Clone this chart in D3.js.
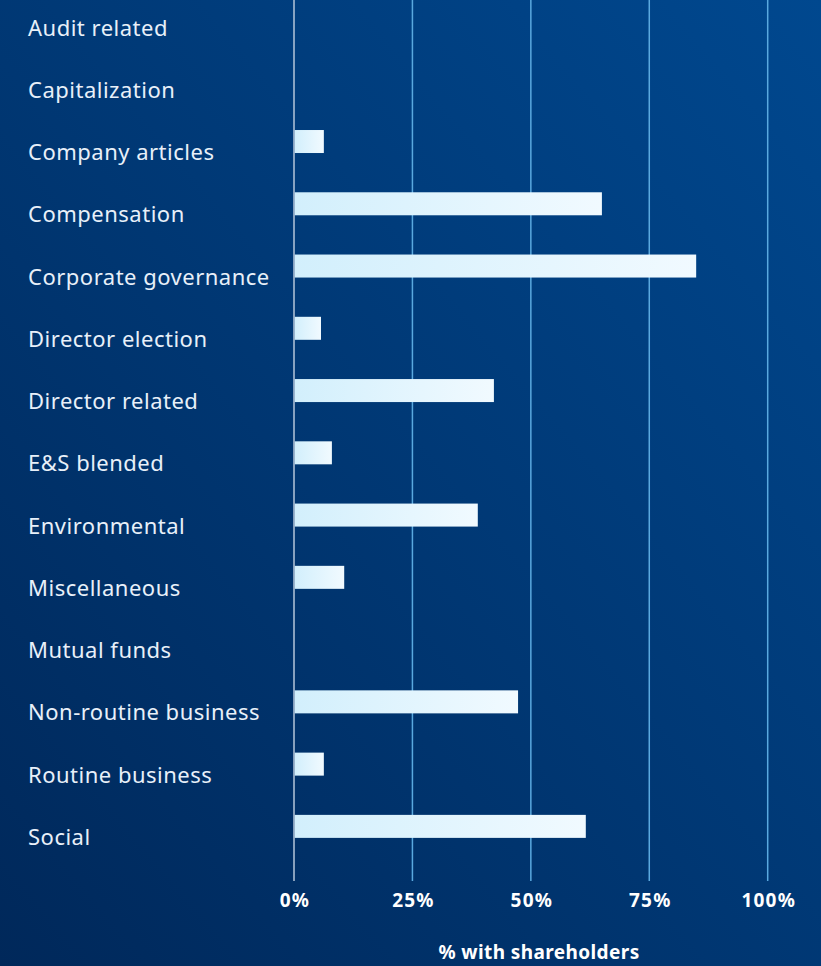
<!DOCTYPE html>
<html>
<head>
<meta charset="utf-8">
<script src="https://cdn.jsdelivr.net/npm/d3@7"></script>
<style>
  html, body { margin: 0; padding: 0; background: #003a75; }
  svg { display: block; }
</style>
</head>
<body>
<div id="chart"></div>
<script>
const categories = [
  "Audit related", "Capitalization", "Company articles", "Compensation",
  "Corporate governance", "Director election", "Director related",
  "E&S blended", "Environmental", "Miscellaneous", "Mutual funds",
  "Non-routine business", "Routine business", "Social"
];
const values = [0, 0, 6.3, 65.0, 84.9, 5.7, 42.2, 8.0, 38.8, 10.6, 0, 47.3, 6.3, 61.6];
const tickValues = [0, 25, 50, 75, 100];
const tickLabels = ["0%", "25%", "50%", "75%", "100%"];
const axisTitle = "% with shareholders";

const W = 821, H = 966;
const svg = d3.select("#chart").append("svg").attr("width", W).attr("height", H);
const defs = svg.append("defs");

const bg = defs.append("linearGradient").attr("id", "bg")
  .attr("x1", "0").attr("y1", "1").attr("x2", "1").attr("y2", "0");
bg.append("stop").attr("offset", "0%").attr("stop-color", "#00285a");
bg.append("stop").attr("offset", "100%").attr("stop-color", "#00488f");

const barG = defs.append("linearGradient").attr("id", "barg")
  .attr("x1", "0").attr("y1", "0").attr("x2", "1").attr("y2", "0");
barG.append("stop").attr("offset", "0%").attr("stop-color", "#d2effc");
barG.append("stop").attr("offset", "100%").attr("stop-color", "#f1faff");

svg.append("rect").attr("width", W).attr("height", H).attr("fill", "url(#bg)");

const x = d3.scaleLinear().domain([0, 100]).range([294, 767.7]);
const step = 62.26;
const y = d3.scaleBand().domain(categories)
  .range([27.5 - step / 2, 27.5 - step / 2 + step * categories.length]);
const barH = 23;
const font = "'Noto Sans', 'Open Sans', sans-serif";

// gridlines
svg.append("g").selectAll("line").data(tickValues).join("line")
  .attr("x1", d => x(d)).attr("x2", d => x(d))
  .attr("y1", 0).attr("y2", 881)
  .attr("stroke", d => d === 0 ? "#b4c6da" : "#5aa9df")
  .attr("stroke-width", 1.5);

// bars
svg.append("g").selectAll("rect").data(categories).join("rect")
  .attr("x", x(0) + 0.75)
  .attr("y", d => y(d) + y.bandwidth() / 2 - 22)
  .attr("width", (d, i) => Math.max(0, x(values[i]) - x(0) - 0.75))
  .attr("height", barH)
  .attr("fill", "url(#barg)");

// category labels
svg.append("g").selectAll("text").data(categories).join("text")
  .attr("x", 28)
  .attr("y", d => y(d) + y.bandwidth() / 2 + 8)
  .attr("fill", "#e8f0f9")
  .attr("font-family", font)
  .attr("font-size", 22)
  .attr("letter-spacing", 0.5)
  .text(d => d);

// tick labels
svg.append("g").selectAll("text").data(tickValues).join("text")
  .attr("x", d => x(d) + 1)
  .attr("y", 907)
  .attr("text-anchor", "middle")
  .attr("fill", "#ffffff")
  .attr("font-family", font)
  .attr("font-weight", "bold")
  .attr("font-size", 19)
  .attr("letter-spacing", 1.2)
  .text((d, i) => tickLabels[i]);

// axis title
svg.append("text")
  .attr("x", 539).attr("y", 959)
  .attr("text-anchor", "middle")
  .attr("fill", "#ffffff")
  .attr("font-family", font)
  .attr("font-weight", "bold")
  .attr("font-size", 19)
  .attr("letter-spacing", 0.4)
  .text(axisTitle);
</script>
</body>
</html>
